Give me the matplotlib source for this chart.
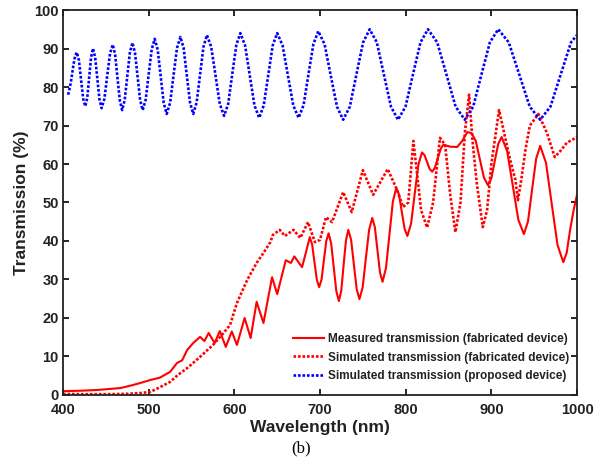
import matplotlib
matplotlib.use("Agg")
import matplotlib.pyplot as plt

# measured transmission (fabricated device)
meas_wl = [400, 420, 440, 467, 480, 490, 502, 513, 525, 533, 539, 545, 552, 560, 565,
           570, 577, 583, 590, 597, 603, 612, 619, 626, 634, 644, 650, 660, 666, 670,
           679, 683.5, 688, 690.8, 693.5, 696.3, 699, 701.8, 704.5, 707.3, 710, 713, 716,
           719, 722, 724.8, 727.5, 730.3, 733, 736.3, 739.5, 742.8, 746, 749.8, 753.5,
           757.3, 761, 764, 767, 770, 773, 777, 781, 785, 789, 792.3, 795.5, 798.8, 802,
           806.3, 810.5, 814.8, 819, 822, 825, 828, 831, 834, 837.5, 841, 844, 852, 860,
           866, 872, 877, 881.8, 886.5, 891.3, 896, 900, 904, 908, 912, 918.5, 925, 931.5,
           938, 942.8, 947.5, 952.3, 957, 963.8, 970.5, 977.3, 984, 988, 992, 996, 1000]
meas_t = [1.0, 1.1, 1.3, 1.8, 2.5, 3.1, 3.9, 4.5, 6.0, 8.3, 9.0, 11.7, 13.5, 15.1, 14.0,
          16.1, 13.5, 16.6, 12.5, 16.5, 13.0, 20.0, 14.8, 24.2, 18.7, 30.6, 26.2, 35.0, 34.3, 36.0,
          33.2, 37.0, 41.0, 39.1, 34.5, 29.9, 28.0, 30.0, 35.0, 40.0, 42.0, 39.4, 33.2,
          27.0, 24.4, 27.1, 33.7, 40.2, 42.9, 40.3, 33.9, 27.5, 24.9, 28.0, 35.5,
          42.9, 46.0, 43.6, 37.7, 31.8, 29.4, 33.0, 41.6, 50.2, 53.8, 52.0, 47.5, 43.1, 41.3,
          44.5, 52.2, 59.8, 63.0, 62.3, 60.5, 58.7, 58.0, 59.0, 61.5, 64.0, 65.0, 64.5, 64.4,
          66.0, 68.3, 68.0, 66.0, 61.3, 56.5, 54.5, 56.3, 60.8, 65.2, 67.0, 63.3, 54.4, 45.5,
          41.8, 45.1, 53.3, 61.4, 64.7, 60.3, 49.6, 38.9, 34.5, 37.0, 43.0, 48.0, 52.0]

# simulated transmission (fabricated device)
simf_wl = [400, 420, 450, 475, 490, 502, 513, 525, 534, 545, 560, 575, 587, 595, 603,
           615, 626, 634, 642, 645, 653, 659, 669, 677, 686, 694, 700, 707, 714, 727,
           737, 750, 762, 779, 790, 797, 803, 809, 812, 818, 825, 832, 840, 846, 852,
           858, 864, 869, 874, 878, 883, 890, 895, 900, 909, 915, 922, 928, 931, 935,
           940, 945, 955, 965, 974, 981, 988, 1000]
simf_t = [0.3, 0.2, 0.2, 0.3, 0.5, 0.8, 2.0, 3.4, 5.2, 7.0, 9.9, 13.0, 16.0, 18.2, 23.9,
          29.9, 34.3, 36.9, 39.7, 41.6, 42.9, 41.3, 42.9, 40.8, 44.9, 39.7, 40.3, 46.2, 44.9, 52.7,
          47.5, 58.4, 52.0, 58.7, 53.2, 48.8, 50.0, 66.0, 60.0, 48.0, 43.5, 50.0, 66.8, 65.0, 52.0,
          42.3, 50.0, 68.0, 78.0, 66.0, 55.0, 43.6, 48.0, 60.0, 74.0, 68.0, 61.0, 56.0, 50.6, 56.0,
          64.0, 70.0, 73.0, 68.0, 61.8, 63.5, 65.5, 67.0]

# simulated transmission (proposed device)
simp_wl = [406, 409, 412, 414, 416, 418.5, 421, 423.5, 426, 428.3, 430.5, 432.8, 435,
           437.5, 440, 442.5, 445, 448.3, 451.5, 454.8, 458, 460.8, 463.5, 466.3, 469,
           472, 475, 478, 481, 484, 487, 490, 493, 496.5, 500, 503.5, 507, 510.5, 514,
           517.5, 521, 525, 529, 533, 537, 540.8, 544.5, 548.3, 552, 556, 560, 564, 568,
           573, 578, 583, 588, 592.8, 597.5, 602.3, 607, 612.5, 618, 623.5, 629, 634.3,
           639.5, 644.8, 650, 656.3, 662.5, 668.8, 675, 680.8, 686.5, 692.3, 698, 705.3,
           712.5, 719.8, 727, 734.8, 742.5, 750.3, 758, 766.3, 774.5, 782.8, 791, 799.8,
           808.5, 817.3, 826, 836.8, 847.5, 858.3, 869, 878.8, 888.5, 898.3, 908, 920.3,
           932.5, 944.8, 957, 969, 981, 993, 1000]
simp_t = [78, 81, 85.5, 88, 89, 87.0, 82, 77.0, 75, 77.2, 82.5, 87.8, 90,
          87.7, 82.3, 76.8, 74.5, 76.9, 82.8, 88.6, 91, 88.5, 82.5, 76.5, 74,
          76.6, 82.8, 88.9, 91.5, 88.9, 82.8, 76.6, 74, 76.7, 83.3, 89.8, 92.5, 89.7, 82.8,
          75.9, 73, 75.9, 83, 90.1, 93, 90.1, 83, 75.9, 73, 76, 83.3, 90.5, 93.5,
          90.4, 83, 75.6, 72.5, 75.6, 83.3, 90.9, 94, 90.8, 83, 75.2, 72, 75.2,
          83, 90.8, 94, 90.8, 83, 75.2, 72, 75.3, 83.3, 91.2, 94.5, 91.1,
          83, 74.9, 71.5, 74.9, 83.3, 91.6, 95, 91.6, 83.3, 74.9, 71.5, 74.9,
          83.3, 91.6, 95, 91.6, 83.3, 74.9, 71.5, 74.9, 83.3, 91.6, 95, 91.6,
          83.3, 74.9, 71.5, 74.9, 83.3, 91.6, 93.5]

plt.rcParams["font.family"] = ["Liberation Sans", "DejaVu Sans"]
plt.rcParams["font.weight"] = "bold"

fig = plt.figure(figsize=(6.02, 4.70), dpi=100)
ax = fig.add_axes([0.1047, 0.1596, 0.8538, 0.8191])

dots = (0, (1.0, 0.7))
ax.plot(meas_wl, meas_t, color="red", lw=1.5, label="Measured transmission (fabricated device)")
ax.plot(simf_wl, simf_t, color="red", lw=1.9, linestyle=dots,
        label="Simulated transmission (fabricated device)")
ax.plot(simp_wl, simp_t, color="blue", lw=1.9, linestyle=dots,
        label="Simulated transmission (proposed device)")

ax.set_xlim(400, 1000)
ax.set_ylim(0, 100)
ax.set_xticks(range(400, 1001, 100))
ax.set_yticks(range(0, 101, 10))
ax.tick_params(direction="in", top=True, right=True, length=4, width=1.2,
               labelsize=10.5)
ax.tick_params(axis="x", pad=6)
ax.tick_params(axis="y", pad=3)
for lab in ax.get_xticklabels() + ax.get_yticklabels():
    lab.set_fontweight("bold")
    lab.set_color("#222222")
for s in ax.spines.values():
    s.set_linewidth(1.3)
    s.set_color("#222222")

ax.set_xlabel("Wavelength (nm)", fontsize=12.5, fontweight="bold", color="#222222", labelpad=2)
ax.set_ylabel("Transmission (%)", fontsize=12.5, fontweight="bold", color="#222222", labelpad=4)

leg = ax.legend(loc="lower right", bbox_to_anchor=(1.0, 0.012), frameon=False,
                prop={"size": 8.5, "weight": "bold"}, handlelength=2.6,
                handletextpad=0.3, labelspacing=0.55, borderaxespad=0.3)
for t in leg.get_texts():
    t.set_color("#222222")

fig.text(0.5, 0.047, "(b)", family="Liberation Serif", fontsize=12, fontweight="normal",
         ha="center", va="center")

fig.savefig("out.png", dpi=100)
